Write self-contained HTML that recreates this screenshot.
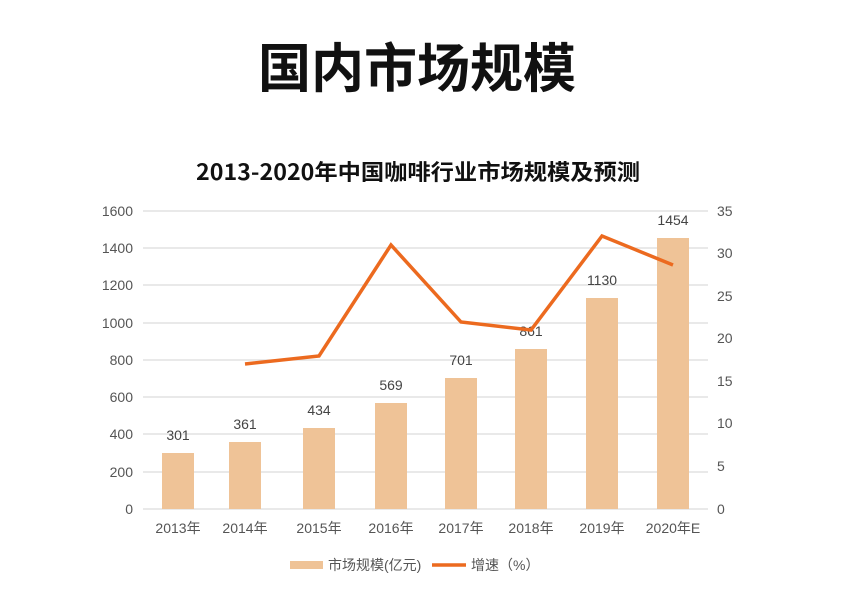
<!DOCTYPE html>
<html><head><meta charset="utf-8"><style>
body{margin:0;background:#fff;}
svg{display:block;font-family:"Liberation Sans","Noto Sans CJK SC",sans-serif;}
</style></head><body>
<svg width="851" height="608" viewBox="0 0 851 608">
<text x="417" y="87" text-anchor="middle" font-size="53" font-weight="bold" fill="#111" font-family="'Noto Sans CJK SC',sans-serif">国内市场规模</text>
<text x="418" y="180" text-anchor="middle" font-size="22" font-weight="bold" fill="#111" font-family="'Noto Sans CJK SC',sans-serif" textLength="444" lengthAdjust="spacingAndGlyphs">2013-2020年中国咖啡行业市场规模及预测</text>
<g stroke="#dcdcdc" stroke-width="1.3">
<line x1="143" x2="708" y1="211" y2="211"/><line x1="143" x2="708" y1="248" y2="248"/>
<line x1="143" x2="708" y1="285" y2="285"/><line x1="143" x2="708" y1="323" y2="323"/>
<line x1="143" x2="708" y1="360" y2="360"/><line x1="143" x2="708" y1="397" y2="397"/>
<line x1="143" x2="708" y1="434" y2="434"/><line x1="143" x2="708" y1="472" y2="472"/>
<line x1="143" x2="708" y1="509" y2="509"/>
</g>
<g font-size="14" fill="#555" text-anchor="end">
<text x="133" y="216">1600</text><text x="133" y="253">1400</text><text x="133" y="290">1200</text>
<text x="133" y="328">1000</text><text x="133" y="365">800</text><text x="133" y="402">600</text>
<text x="133" y="439">400</text><text x="133" y="477">200</text><text x="133" y="514">0</text>
</g>
<g font-size="14" fill="#555">
<text x="717" y="216">35</text><text x="717" y="258">30</text><text x="717" y="301">25</text>
<text x="717" y="343">20</text><text x="717" y="386">15</text><text x="717" y="428">10</text>
<text x="717" y="471">5</text><text x="717" y="514">0</text>
</g>
<g fill="#efc397">
<rect x="162" y="453" width="32" height="56"/>
<rect x="229" y="442" width="32" height="67"/>
<rect x="303" y="428" width="32" height="81"/>
<rect x="375" y="403" width="32" height="106"/>
<rect x="445" y="378" width="32" height="131"/>
<rect x="515" y="349" width="32" height="160"/>
<rect x="586" y="298" width="32" height="211"/>
<rect x="657" y="238" width="32" height="271"/>
</g>
<g font-size="14" fill="#444" text-anchor="middle">
<text x="178" y="440">301</text><text x="245" y="429">361</text><text x="319" y="415">434</text>
<text x="391" y="390">569</text><text x="461" y="365">701</text><text x="531" y="336">861</text>
<text x="602" y="285">1130</text><text x="673" y="225">1454</text>
</g>
<polyline points="245,364 319,356 391,245 461,322 531,330 602,236 673,265" fill="none" stroke="#ec6a1f" stroke-width="3.5" stroke-linejoin="miter"/>
<g font-size="14" fill="#555" text-anchor="middle">
<text x="178" y="533">2013年</text><text x="245" y="533">2014年</text><text x="319" y="533">2015年</text>
<text x="391" y="533">2016年</text><text x="461" y="533">2017年</text><text x="531" y="533">2018年</text>
<text x="602" y="533">2019年</text><text x="673" y="533">2020年E</text>
</g>
<rect x="290" y="561" width="33" height="8" fill="#efc397"/>
<text x="328" y="570" font-size="14" fill="#555">市场规模(亿元)</text>
<line x1="432" x2="466" y1="565" y2="565" stroke="#ec6a1f" stroke-width="3.5"/>
<text x="471" y="570" font-size="14" fill="#555">增速（%）</text>
</svg>
</body></html>
